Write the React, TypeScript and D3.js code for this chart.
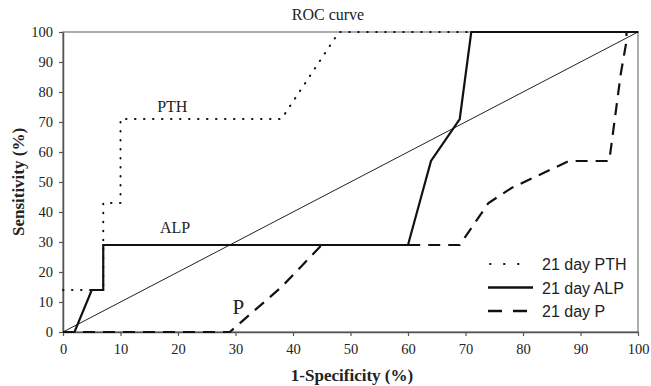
import React, { useRef, useEffect } from 'react';
import * as d3 from 'd3';

type Pt = [number, number];

const xTicks = [0, 10, 20, 30, 40, 50, 60, 70, 80, 90, 100];
const yTicks = [0, 10, 20, 30, 40, 50, 60, 70, 80, 90, 100];

const pthCurve: Pt[] = [[0, 14], [7, 14], [7, 43], [10, 43], [10, 71], [38, 71], [48, 100], [100, 100]];
const alpCurve: Pt[] = [[0, 0], [2, 0], [5, 14], [7, 14], [7, 29], [60, 29], [64, 57], [69, 71], [71, 100], [100, 100]];
const pCurve: Pt[] = [[0, 0], [29, 0], [38, 15], [45, 29], [69, 29], [74, 43], [78, 48], [88, 57], [95, 57], [97, 86], [98, 97], [98, 100], [100, 100]];
const diagonal: Pt[] = [[0, 0], [100, 100]];

const legendItems = ['21 day PTH', '21 day ALP', '21 day P'];

const App: React.FC = () => {
  const svgRef = useRef<SVGSVGElement>(null);

  useEffect(() => {
    const width = 651;
    const height = 386;
    const marginLeft = 63;
    const marginTop = 32;
    const plotW = 575;
    const plotH = 300;

    d3.select(svgRef.current).selectAll('*').remove();
    const svg = d3.select(svgRef.current).attr('width', width).attr('height', height);

    const x = d3.scaleLinear().domain([0, 100]).range([marginLeft, marginLeft + plotW]);
    const y = d3.scaleLinear().domain([0, 100]).range([marginTop + plotH, marginTop]);

    const serif = "'Liberation Serif', 'Times New Roman', serif";
    const sans = "'Liberation Sans', Arial, sans-serif";

    // frame
    svg.append('rect')
      .attr('x', x(0)).attr('y', y(100))
      .attr('width', plotW).attr('height', plotH)
      .attr('fill', 'white').attr('stroke', '#777').attr('stroke-width', 1.2);

    const xAxis = svg.append('g')
      .attr('transform', `translate(0,${y(0)})`)
      .call(d3.axisBottom(x).tickValues(xTicks).tickSize(4).tickSizeOuter(0));
    const yAxis = svg.append('g')
      .attr('transform', `translate(${x(0)},0)`)
      .call(d3.axisLeft(y).tickValues(yTicks).tickSize(4).tickSizeOuter(0));

    [xAxis, yAxis].forEach(a => {
      a.attr('font-family', serif).attr('font-size', 14.5);
      a.select('.domain').attr('stroke', '#555').attr('stroke-width', 1.5);
      a.selectAll('.tick line').attr('stroke', '#555').attr('stroke-width', 1.2);
      a.selectAll('.tick text').attr('fill', '#222');
    });
    xAxis.selectAll('.tick text').attr('y', 8).attr('dy', '0.95em');
    yAxis.selectAll('.tick text').attr('x', -10);

    const line = d3.line<Pt>().x(d => x(d[0])).y(d => y(d[1]));

    svg.append('path').datum(diagonal).attr('d', line)
      .attr('fill', 'none').attr('stroke', '#222').attr('stroke-width', 1);

    svg.append('path').datum(pCurve).attr('d', line)
      .attr('fill', 'none').attr('stroke', '#111').attr('stroke-width', 2.2)
      .attr('stroke-dasharray', '12,8');

    svg.append('path').datum(pthCurve).attr('d', line)
      .attr('fill', 'none').attr('stroke', '#111').attr('stroke-width', 2)
      .attr('stroke-linecap', 'round').attr('stroke-dasharray', '0.5,8.5');

    svg.append('path').datum(alpCurve).attr('d', line)
      .attr('fill', 'none').attr('stroke', '#111').attr('stroke-width', 2.2);

    // curve labels
    svg.append('text').attr('x', x(19)).attr('y', y(73.5)).attr('text-anchor', 'middle')
      .attr('font-family', serif).attr('font-size', 16).attr('fill', '#222').text('PTH');
    svg.append('text').attr('x', x(19.5)).attr('y', y(33)).attr('text-anchor', 'middle')
      .attr('font-family', serif).attr('font-size', 16).attr('fill', '#222').text('ALP');
    svg.append('text').attr('x', x(30.5)).attr('y', y(6)).attr('text-anchor', 'middle')
      .attr('font-family', serif).attr('font-size', 21).attr('fill', '#222').text('P');

    // title and axis titles
    svg.append('text').attr('x', 328).attr('y', 20).attr('text-anchor', 'middle')
      .attr('font-family', serif).attr('font-size', 16).attr('fill', '#222').text('ROC curve');
    svg.append('text').attr('x', 352).attr('y', 381).attr('text-anchor', 'middle')
      .attr('font-family', serif).attr('font-size', 17).attr('font-weight', 'bold').attr('fill', '#222')
      .text('1-Specificity (%)');
    svg.append('text').attr('transform', `translate(24,${y(50)}) rotate(-90)`).attr('text-anchor', 'middle')
      .attr('font-family', serif).attr('font-size', 17).attr('font-weight', 'bold').attr('fill', '#222')
      .text('Sensitivity (%)');

    // legend
    const lg = svg.append('g').attr('transform', 'translate(488,264)');
    legendItems.forEach((label, i) => {
      const row = lg.append('g').attr('transform', `translate(0,${i * 23.5})`);
      const l = row.append('line').attr('x1', 0).attr('x2', 45).attr('y1', 0).attr('y2', 0)
        .attr('stroke', '#111').attr('stroke-width', 2.4);
      if (i === 0) l.attr('x1', 2).attr('x2', 44).attr('stroke-width', 2).attr('stroke-linecap', 'round').attr('stroke-dasharray', '0.5,13.5');
      if (i === 2) l.attr('x2', 39).attr('stroke-dasharray', '14,11');
      row.append('text').attr('x', 54).attr('y', 6).attr('font-family', sans).attr('font-size', 16)
        .attr('fill', '#222').text(label);
    });
  }, []);

  return <svg ref={svgRef} style={{ position: 'absolute', left: 0, top: 0 }}></svg>;
};

export default App;
